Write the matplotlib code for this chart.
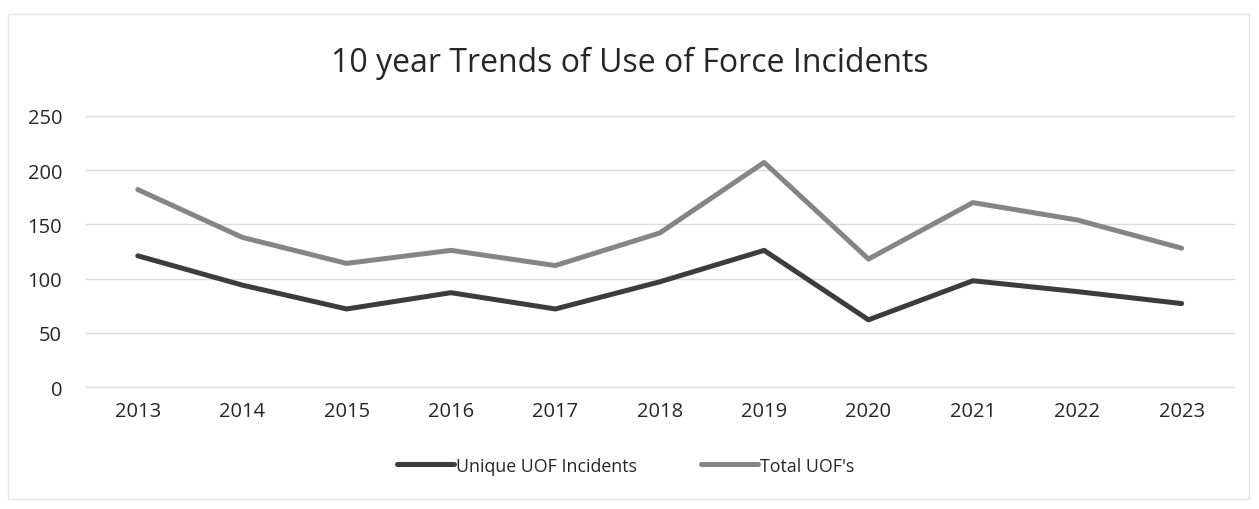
import matplotlib.pyplot as plt
from matplotlib.patches import Rectangle

years = ['2013', '2014', '2015', '2016', '2017', '2018', '2019', '2020', '2021', '2022', '2023']
unique_uof = [121, 94, 72, 87, 72, 97, 126, 62, 98, 88, 77]
total_uof = [182, 138, 114, 126, 112, 142, 207, 118, 170, 154, 128]
y_ticks = [0, 50, 100, 150, 200, 250]

plt.rcParams['font.family'] = ['Open Sans', 'DejaVu Sans']

fig = plt.figure(figsize=(12.59, 5.10), dpi=100)
ax = fig.add_axes([0.068, 0.239, 0.912, 0.532])

x = range(len(years))
ax.plot(x, unique_uof, color='#3c3c3c', lw=3.6, label='Unique UOF Incidents', solid_capstyle='round')
ax.plot(x, total_uof, color='#858585', lw=3.6, label="Total UOF's", solid_capstyle='round')

ax.set_xlim(-0.5, len(years) - 0.5)
ax.set_ylim(0, 250)
ax.set_yticks(y_ticks)
ax.set_xticks(list(x))
ax.set_xticklabels(years)
ax.tick_params(axis='both', length=0, labelsize=14.5, colors='#262626')
ax.tick_params(axis='x', pad=10)
ax.tick_params(axis='y', pad=17)
ax.grid(axis='y', color='#dcdcdc', lw=1)
for gl in ax.get_ygridlines():
    gl.set_clip_on(False)
ax.set_axisbelow(True)
for s in ax.spines.values():
    s.set_visible(False)

fig.text(0.5, 0.875, '10 year Trends of Use of Force Incidents', ha='center', va='center',
         fontsize=23, color='#262626')

fig.legend(loc='center', bbox_to_anchor=(0.497, 0.085), ncol=2, frameon=False,
           fontsize=12.8, handlelength=3.2, handletextpad=0.1, columnspacing=3.6,
           labelcolor='#262626')

fig.patches.append(Rectangle((0.006, 0.02), 0.986, 0.95, transform=fig.transFigure,
                             fill=False, edgecolor='#e4e4e4', lw=1))

fig.savefig('out.png', dpi=100)
